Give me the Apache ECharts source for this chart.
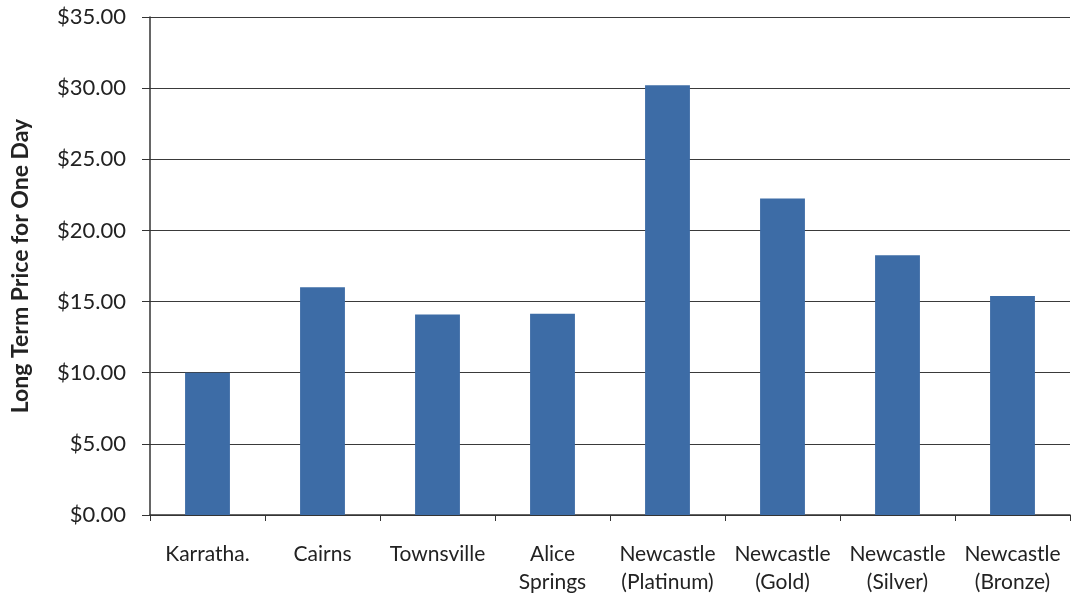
<!DOCTYPE html>
<html><head><meta charset="utf-8">
<script src="https://cdn.jsdelivr.net/npm/echarts@6/dist/echarts.min.js"></script>
<style>html,body{margin:0;padding:0;background:#fff}#c{width:1075px;height:598px}</style>
</head><body><div id="c"></div>
<script>
const categories = ["Karratha.", "Cairns", "Townsville", "Alice\nSprings", "Newcastle\n(Platinum)", "Newcastle\n(Gold)", "Newcastle\n(Silver)", "Newcastle\n(Bronze)"];
const prices = [10.0, 16.0, 14.1, 14.15, 30.2, 22.25, 18.25, 15.4];
const yTicks = [0, 5, 10, 15, 20, 25, 30, 35];
const yName = "Long Term Price for One Day";

const chart = echarts.init(document.getElementById('c'));
chart.setOption({
  animation: false,
  backgroundColor: '#fff',
  grid: {left: 150, right: 5, top: 17, bottom: 83},
  xAxis: {
    type: 'category', data: categories,
    axisLine: {lineStyle: {color: '#333', width: 1.5}},
    axisTick: {show: true, alignWithLabel: false, length: 6, lineStyle: {color: '#333'}},
    axisLabel: {color: '#222', fontSize: 21, fontFamily: 'Lato', margin: 25, lineHeight: 28, interval: 0}
  },
  yAxis: {
    type: 'value', min: 0, max: 35, interval: 5,
    name: yName, nameLocation: 'middle', nameGap: 118,
    nameTextStyle: {fontSize: 23, fontWeight: 'bold', color: '#222', fontFamily: 'Lato'},
    axisLine: {show: true, lineStyle: {color: '#333', width: 1.5}},
    axisTick: {show: true, length: 8, lineStyle: {color: '#333'}},
    axisLabel: {color: '#222', fontSize: 22, fontFamily: 'Lato', margin: 24,
      formatter: v => yTicks.includes(v) ? '$' + v.toFixed(2) : ''},
    splitLine: {lineStyle: {color: '#3a3a3a', width: 1.2}}
  },
  series: [{
    type: 'bar', data: prices, barWidth: '39%',
    itemStyle: {color: '#3d6ca6'}
  }]
});
</script></body></html>
